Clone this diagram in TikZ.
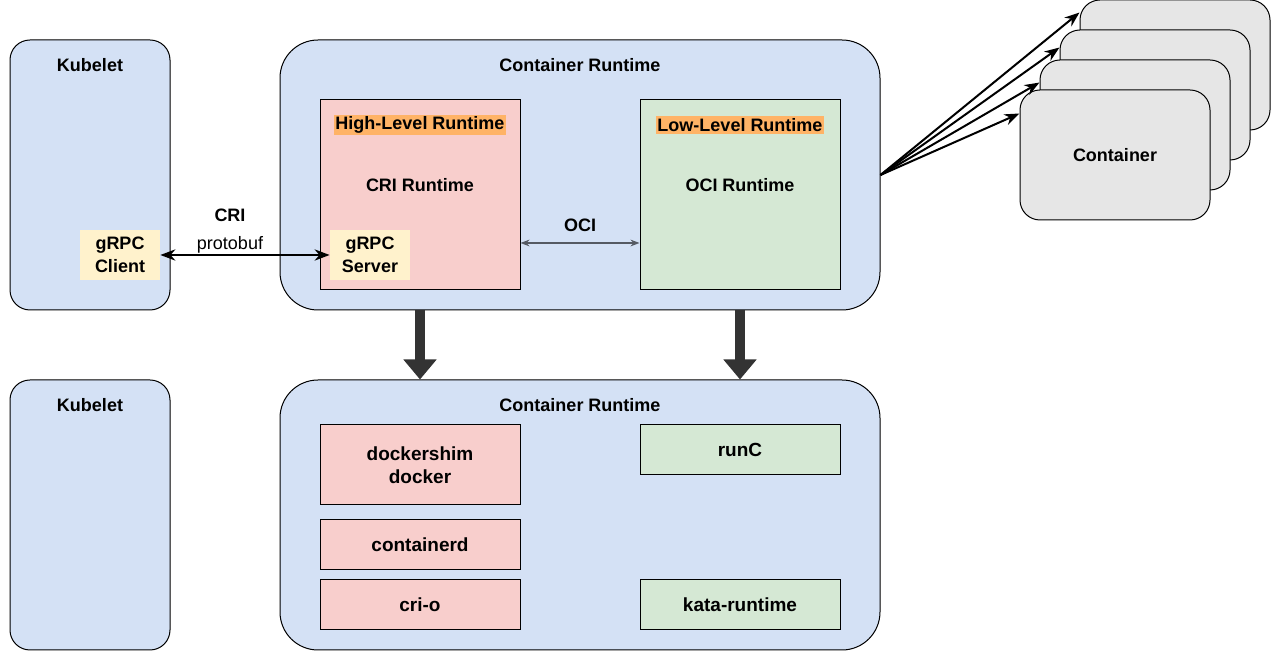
\documentclass[tikz,border=0pt]{standalone}
\usepackage{fontspec}
\setmainfont{Liberation Sans}
\usetikzlibrary{arrows.meta}

\definecolor{runtimeblue}{HTML}{D4E1F5}
\definecolor{highred}{HTML}{F8CECC}
\definecolor{lowgreen}{HTML}{D5E8D4}
\definecolor{grpcyellow}{HTML}{FFF2CC}
\definecolor{tagorange}{HTML}{FFB366}
\definecolor{containergray}{HTML}{E6E6E6}
\definecolor{blockgray}{HTML}{333333}
\definecolor{ocigray}{HTML}{555A63}

\begin{document}
\begin{tikzpicture}[>=Stealth, x=0.5pt, y=-0.5pt, font=\fontsize{9}{11.5}\selectfont\bfseries]

\tikzstyle{kubelet}=[draw, fill=runtimeblue, rounded corners=10pt, line width=0.5pt, minimum width=80pt, minimum height=135pt, inner sep=0pt]
\tikzstyle{runtime}=[draw, fill=runtimeblue, rounded corners=19pt, line width=0.5pt, minimum width=300pt, minimum height=135pt, inner sep=0pt]
\tikzstyle{level}=[draw, line width=0.5pt, minimum width=100pt, minimum height=95pt, inner sep=0pt]
\tikzstyle{impl}=[draw, line width=0.5pt, minimum width=100pt, inner sep=0pt, align=center, font=\fontsize{9.5}{11.5}\selectfont\bfseries]
\tikzstyle{grpc}=[fill=grpcyellow, minimum width=40pt, minimum height=25pt, inner sep=0pt, align=center]
\tikzstyle{tag}=[fill=tagorange, inner xsep=0.5pt, inner ysep=1pt]
\tikzstyle{container}=[draw, fill=containergray, rounded corners=10pt, line width=0.5pt, minimum width=95pt, minimum height=65pt, inner sep=0pt]
\tikzstyle{arrow}=[<->, line width=1pt]
\tikzstyle{block}=[line width=5pt, blockgray, -{Triangle[width=16pt, length=10pt]}]

\useasboundingbox (0,0) rectangle (1271,651);

% Top: kubelet and container runtime
\node[kubelet] (kub1) at (90,175) {};
\node (kub1t) at (90,65) {Kubelet};
\node[runtime] (cr1) at (580,175) {};
\node (cr1t) at (580,65) {Container Runtime};

\node[level, fill=highred] (hl) at (420,195) {};
\node[tag] (hlt) at (420,125) {High-Level Runtime};
\node (cri) at (420,185) {CRI Runtime};
\node[level, fill=lowgreen] (ll) at (740,195) {};
\node[tag] (llt) at (740,125) {Low-Level Runtime};
\node (oci) at (740,185) {OCI Runtime};

\node[grpc] (client) at (120,255) {gRPC\\Client};
\node[grpc] (server) at (370,255) {gRPC\\Server};

% Interfaces
\draw[arrow] (client.east) -- (server.west);
\node (crit) at (230,215) {CRI};
\node (proto) at (230,245) {\mdseries protobuf};
\draw[<->, line width=0.7pt, ocigray, >={Stealth[length=4.5pt]}] (hl.east |- 0,243) -- (ll.west |- 0,243);
\node (ocit) at (580,225) {OCI};

% Containers
\node[container] (c1) at (1175,65) {};
\node[container] (c2) at (1155,95) {};
\node[container] (c3) at (1135,125) {};
\node[container] (c4) at (1115,155) {Container};

\draw[arrow, -> ] (cr1.east) -- ([yshift=-6.5pt]c1.north west);
\draw[arrow, -> ] (cr1.east) -- ([yshift=-9pt]c2.north west);
\draw[arrow, -> ] (cr1.east) -- ([yshift=-11.5pt]c3.north west);
\draw[arrow, -> ] (cr1.east) -- ([yshift=-12pt]c4.north west);

% Bottom: implementations
\node[kubelet] (kub2) at (90,515) {};
\node (kub2t) at (90,405) {Kubelet};
\node[runtime] (cr2) at (580,515) {};
\node (cr2t) at (580,405) {Container Runtime};

\node[impl, fill=highred, minimum height=40pt] (dockershim) at (420,465) {dockershim\\docker};
\node[impl, fill=highred, minimum height=25pt] (containerd) at (420,545) {containerd};
\node[impl, fill=highred, minimum height=25pt] (crio) at (420,605) {cri-o};
\node[impl, fill=lowgreen, minimum height=25pt] (runc) at (740,450) {runC};
\node[impl, fill=lowgreen, minimum height=25pt] (kata) at (740,605) {kata-runtime};

\draw[block] (hl |- cr1.south) -- (hl |- cr2.north);
\draw[block] (ll |- cr1.south) -- (ll |- cr2.north);

\end{tikzpicture}
\end{document}
